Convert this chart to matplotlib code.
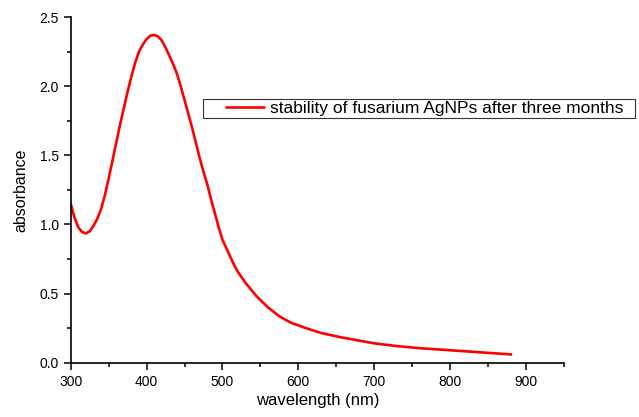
import matplotlib.pyplot as plt
from matplotlib.lines import Line2D

wavelength = [300, 305, 310, 315, 320, 325, 330, 335, 340, 345, 350, 355,
              360, 365, 370, 375, 380, 385, 390, 395, 400, 405, 410, 415,
              420, 425, 430, 435, 440, 445, 450, 455, 460, 465, 470, 475,
              480, 485, 490, 495, 500, 505, 510, 515, 520, 530, 545, 560,
              575, 590, 610, 630, 655, 680, 700, 730, 760, 800, 840, 880]
absorbance = [1.15, 1.05, 0.98, 0.945, 0.935, 0.95, 0.99, 1.04, 1.11, 1.21,
              1.33, 1.46, 1.59, 1.72, 1.84, 1.96, 2.07, 2.17, 2.25, 2.30,
              2.34, 2.365, 2.37, 2.36, 2.33, 2.28, 2.22, 2.16, 2.09, 2.00,
              1.90, 1.80, 1.70, 1.59, 1.48, 1.38, 1.29, 1.18, 1.08, 0.98,
              0.89, 0.83, 0.77, 0.71, 0.66, 0.58, 0.48, 0.40, 0.335, 0.29,
              0.25, 0.215, 0.185, 0.16, 0.14, 0.12, 0.105, 0.09, 0.075, 0.06]
label = "stability of fusarium AgNPs after three months"

plt.rcParams['font.family'] = ['Liberation Sans', 'DejaVu Sans']

fig = plt.figure(figsize=(6.39, 4.17), dpi=100)
ax = fig.add_axes([0.1106, 0.1302, 0.772, 0.829])

lw = 1.9
ax.plot(wavelength, absorbance, color='red', lw=lw)

ax.set_xlim(300, 950)
ax.set_ylim(0, 2.5)
ax.set_xticks(range(300, 901, 100))
ax.set_xticks(range(350, 951, 100), minor=True)
ax.set_yticks([0, 0.5, 1.0, 1.5, 2.0, 2.5])
ax.set_yticks([0.25, 0.75, 1.25, 1.75, 2.25], minor=True)
ax.yaxis.set_major_formatter(plt.FormatStrFormatter('%.1f'))

for side in ['top', 'right']:
    ax.spines[side].set_visible(False)
for side in ['left', 'bottom']:
    ax.spines[side].set_linewidth(1.2)
ax.tick_params(which='major', direction='out', length=5, width=1.1, labelsize=10)
ax.tick_params(which='minor', direction='out', length=3, width=1.1)

ax.set_xlabel('wavelength (nm)', fontsize=12, labelpad=3)
ax.set_ylabel('absorbance', fontsize=11.5, labelpad=8)

# legend handle: blank gap on the left, then the red line (as in the original)
on, off = 28.8 / lw, 14.4 / lw
proxy = Line2D([], [], color='red', lw=lw, linestyle=(on, (on, off)))
leg = fig.legend([proxy], [label + "  "], loc='center left',
                 bbox_to_anchor=(202.7 / 639, 1 - 108.8 / 417),
                 fontsize=12.5, frameon=True, fancybox=False, handlelength=3.47,
                 borderpad=0.12, borderaxespad=0, handletextpad=0.3)
leg.get_frame().set_edgecolor('black')
leg.get_frame().set_linewidth(0.8)

fig.savefig('out.png', dpi=100)
